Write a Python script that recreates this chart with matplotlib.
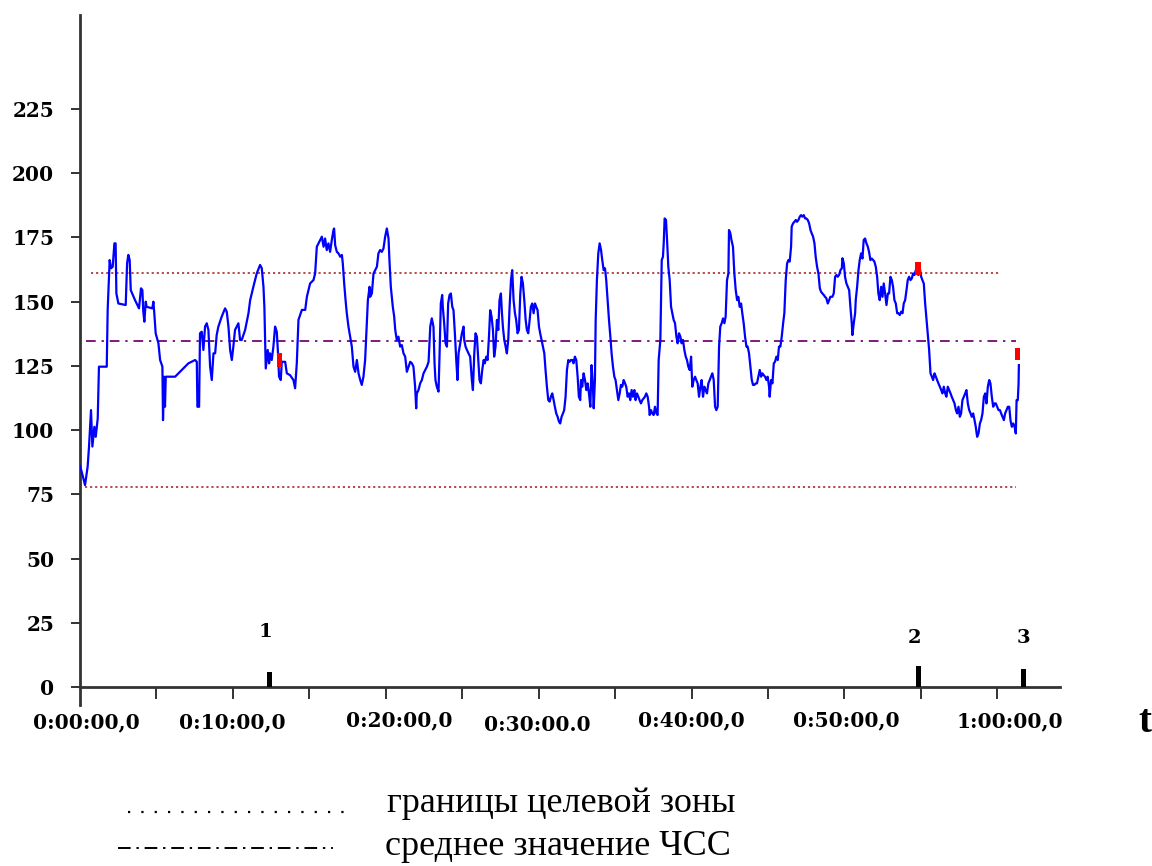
import numpy as np
import matplotlib
matplotlib.use('Agg')
import matplotlib.pyplot as plt
from matplotlib.lines import Line2D

# heart rate trace, time in minutes, HR in beats per minute
time_min = [
    0.0, 0.11, 0.33, 0.50, 0.59, 0.72, 0.81, 0.94, 1.03, 1.16, 1.24, 1.75, 1.81, 1.94, 2.03, 2.14,
    2.25, 2.33, 2.38, 2.51, 2.99, 3.08, 3.16, 3.25, 3.32, 3.60, 3.86, 3.99, 4.08, 4.14, 4.21, 4.30,
    4.36, 4.73, 4.80, 4.86, 4.95, 5.13, 5.24, 5.39, 5.43, 5.50, 5.56, 5.61, 6.22, 7.09, 7.53, 7.64,
    7.68, 7.79, 7.85, 7.96, 8.07, 8.18, 8.29, 8.40, 8.51, 8.62, 8.73, 8.84, 8.94, 9.05, 9.27, 9.49,
    9.60, 9.71, 9.82, 9.93, 10.03, 10.14, 10.36, 10.47, 10.58, 10.80, 11.02, 11.13, 11.34, 11.56,
    11.78, 11.89, 12.00, 12.06, 12.15, 12.28, 12.37, 12.43, 12.54, 12.65, 12.76, 12.87, 12.94, 13.02,
    13.13, 13.20, 13.42, 13.53, 13.74, 13.96, 14.07, 14.18, 14.29, 14.51, 14.73, 14.84, 15.05, 15.27,
    15.38, 15.49, 15.71,
    15.82, 15.93, 16.03, 16.14, 16.25, 16.36, 16.47, 16.58, 16.62, 16.69, 16.80, 16.91, 17.02, 17.13,
    17.19, 17.28, 17.37, 17.45, 17.56, 17.67, 17.78, 17.89, 18.00, 18.11, 18.22, 18.33, 18.43, 18.54,
    18.65, 18.76, 18.83, 18.94, 18.98, 19.09, 19.20, 19.31, 19.42, 19.52, 19.63, 19.74, 19.85, 19.96,
    20.07, 20.18, 20.24, 20.33, 20.46, 20.55, 20.62, 20.72, 20.83, 20.94, 21.05, 21.16, 21.27, 21.38,
    21.49, 21.60, 21.71, 21.81, 21.92, 21.99, 22.03, 22.14, 22.25, 22.36, 22.47, 22.58, 22.69, 22.80,
    22.91, 23.01, 23.12, 23.19, 23.25, 23.34, 23.45, 23.52, 23.60, 23.69, 23.73, 23.82, 23.91, 24.00,
    24.08, 24.17, 24.26, 24.35, 24.43, 24.52, 24.61, 24.69, 24.76, 24.87, 24.98, 25.09, 25.13, 25.22,
    25.31, 25.41, 25.52, 25.63, 25.70, 25.79, 25.87, 25.96, 26.05, 26.13, 26.22, 26.31, 26.40, 26.48,
    26.57, 26.66, 26.75, 26.83, 26.92, 27.01, 27.09, 27.18, 27.27, 27.36, 27.44, 27.53, 27.60, 27.66,
    27.75, 27.84, 27.92, 28.01, 28.10, 28.19, 28.27, 28.36, 28.45, 28.53, 28.62, 28.71, 28.80, 28.88,
    28.97, 29.06, 29.15, 29.23, 29.32, 29.41, 29.49, 29.58, 29.67, 29.76, 29.84, 29.93, 30.02, 30.10,
    30.19, 30.28, 30.37, 30.45, 30.54, 30.63, 30.72, 30.80, 30.89, 30.98, 31.06, 31.15, 31.24, 31.33,
    31.41, 31.50, 31.59, 31.67, 31.76, 31.85, 31.94, 32.02, 32.11, 32.20, 32.28, 32.37, 32.46, 32.55,
    32.63, 32.72,
    32.77, 32.85, 32.94, 33.03, 33.12, 33.20, 33.29, 33.38, 33.46, 33.55, 33.60, 33.68, 33.73, 33.81,
    33.90, 33.99, 34.08, 34.16, 34.25, 34.34, 34.42, 34.51, 34.60, 34.69, 34.77, 34.86, 34.95, 35.03,
    35.12, 35.21, 35.30, 35.38, 35.47, 35.56, 35.65, 35.73, 35.82, 35.91, 35.99, 36.08, 36.17, 36.26,
    36.34, 36.43, 36.52, 36.60, 36.69, 36.78, 36.87, 36.95, 37.04, 37.13, 37.22, 37.26, 37.35, 37.43,
    37.52, 37.61, 37.70, 37.78, 37.85, 37.96, 38.05, 38.13, 38.18, 38.24, 38.33, 38.42, 38.48, 38.57,
    38.66, 38.74, 38.83, 38.92, 39.01, 39.09, 39.18, 39.27, 39.35, 39.44, 39.53, 39.62, 39.70, 39.79,
    39.88, 39.97, 40.05, 40.14, 40.23, 40.31, 40.40, 40.49, 40.58, 40.66, 40.75, 40.84, 40.92, 41.01,
    41.10, 41.19, 41.27, 41.36, 41.45, 41.54, 41.62, 41.71, 41.80, 41.88, 41.97, 42.06, 42.15, 42.23,
    42.32, 42.41, 42.45, 42.54, 42.61, 42.71, 42.80, 42.89, 42.98, 43.06, 43.15, 43.24, 43.32, 43.41,
    43.50, 43.59, 43.67, 43.76, 43.85, 43.94, 44.02, 44.11, 44.20, 44.28, 44.37, 44.46, 44.55, 44.63,
    44.72, 44.81, 44.90, 44.98, 45.07, 45.11, 45.20, 45.29, 45.38, 45.46, 45.55, 45.64, 45.72, 45.81,
    45.90, 45.99, 46.07, 46.16, 46.25, 46.34, 46.42, 46.51, 46.55, 46.64, 46.73, 46.82, 46.90, 46.99,
    47.08, 47.16, 47.25, 47.34, 47.43, 47.51, 47.60, 47.69, 47.78, 47.86, 47.95, 48.04, 48.12, 48.21,
    48.30, 48.39, 48.47, 48.56, 48.65, 48.73, 48.82, 48.91, 49.00, 49.08,
    49.21, 49.30, 49.39, 49.48, 49.56, 49.65, 49.74, 49.83, 49.87, 49.96, 50.04, 50.13, 50.22, 50.31,
    50.39, 50.48, 50.52, 50.61, 50.70, 50.74, 50.83, 50.92, 51.00, 51.09, 51.18, 51.26, 51.35, 51.44,
    51.53, 51.61, 51.70, 51.79, 51.88, 51.96, 52.05, 52.14, 52.22, 52.31, 52.40, 52.49, 52.57, 52.66,
    52.75, 52.84, 52.92, 53.01, 53.10, 53.18, 53.27, 53.36, 53.45, 53.53, 53.62, 53.71, 53.80, 53.88,
    53.97, 54.06, 54.14, 54.23, 54.32, 54.41, 54.49, 54.58, 54.67, 54.76, 54.84, 54.93, 55.02, 55.10,
    55.19, 55.28, 55.37, 55.45, 55.54, 55.63, 55.72, 55.80, 55.89, 55.98, 56.06, 56.15, 56.24, 56.33,
    56.41, 56.50, 56.59, 56.67, 56.76, 56.85, 56.94, 57.02, 57.11, 57.20, 57.29, 57.37, 57.46, 57.55,
    57.63, 57.72, 57.81, 57.90, 57.98, 58.07, 58.16, 58.25, 58.33, 58.42, 58.51, 58.59, 58.68, 58.77,
    58.86, 58.94, 59.03, 59.12, 59.21, 59.29, 59.38, 59.47, 59.55, 59.64, 59.73, 59.82, 59.90, 59.99,
    60.08, 60.17, 60.25, 60.34, 60.43, 60.51, 60.60, 60.69, 60.78, 60.86, 60.95, 61.04, 61.13, 61.21,
    61.26, 61.34, 61.39, 61.41,
]
hr_bpm = [
    86.0, 83.8, 78.6, 85.8, 93.6, 107.8, 93.6, 101.3, 97.4, 104.6, 124.7, 124.7, 146.8, 166.2, 163.0, 163.6,
    172.7, 172.7, 153.2, 149.3, 148.7, 164.9, 168.2, 166.2, 154.5, 150.6, 147.4, 155.2, 154.5, 146.1, 142.2, 150.0,
    148.0, 147.4, 150.0, 145.5, 137.7, 133.8, 127.3, 124.7, 103.9, 120.8, 109.1, 120.8, 120.8, 126.0, 127.3, 126.6,
    109.1, 109.1, 137.7, 138.3, 131.2, 140.3, 141.6, 139.0, 124.7, 119.5, 129.9, 129.9, 137.0, 140.3, 144.2, 147.4,
    146.1, 140.3, 131.2, 127.3, 132.5, 139.0, 141.6, 135.1, 135.1, 139.0, 145.5, 150.6, 155.8, 161.0,
    164.3, 163.0, 155.8, 148.0, 124.0, 131.2, 126.0, 129.9, 127.3, 132.5, 140.3, 138.3, 131.2, 120.8,
    119.5, 126.6, 126.6, 122.1, 121.4, 119.5, 116.3, 126.0, 142.9, 146.8, 146.8, 151.9, 157.1, 158.4,
    161.0, 171.4, 174.0,
    175.3, 171.4, 174.6, 170.1, 172.7, 169.4, 174.0, 177.9, 178.5, 172.0, 169.4, 168.8, 167.5, 168.2,
    164.9, 157.1, 150.6, 145.5, 140.3, 136.4, 132.5, 124.7, 122.7, 127.3, 122.1, 119.5, 117.6, 120.8,
    127.3, 141.6, 150.6, 155.8, 151.9, 153.2, 161.0, 162.3, 163.6, 168.8, 170.1, 169.4, 170.7, 175.3,
    178.5, 174.6, 166.2, 155.8, 148.0, 144.2, 139.0, 135.1, 136.4, 132.5, 133.1, 129.9, 128.6, 122.7,
    124.7, 126.6, 126.0, 124.7, 116.9, 108.5, 114.3, 115.6, 118.2, 119.5, 122.1, 123.4, 124.7, 126.6,
    140.3, 143.5, 140.3, 126.0, 119.5, 116.9, 115.0, 129.9, 149.3, 152.6, 148.0, 141.6, 133.8, 132.5,
    149.3, 152.6, 153.2, 148.0, 146.7, 137.7, 127.3, 119.5, 129.9, 133.8, 137.7, 140.3, 135.1, 132.5,
    131.2, 129.9, 128.6, 119.5, 115.6, 129.9, 137.7, 136.4, 127.3, 119.5, 118.2, 123.4, 127.3, 126.0,
    128.6, 127.3, 136.4, 146.7, 144.2, 139.0, 128.6, 132.5, 142.9, 139.0, 150.6, 153.2, 145.5, 140.3,
    135.1, 132.5, 129.9, 135.1, 148.0, 158.4, 162.3, 150.6, 145.5, 142.9, 137.7, 139.0, 153.2, 159.7,
    157.1, 150.6, 142.9, 139.0, 137.7, 142.9, 148.0, 149.3, 145.5, 149.3, 148.0, 146.7, 140.3, 137.7,
    135.1, 132.5, 129.9, 123.4, 116.9, 111.7, 111.1, 113.0, 114.3, 111.7, 109.1, 106.5, 105.2, 103.3,
    102.6, 105.2, 106.5, 107.8, 113.0, 123.4, 127.3, 126.6, 127.3, 127.3, 126.0, 128.6, 127.3, 120.8,
    113.0, 111.7,
    119.5, 116.9, 122.1, 119.5, 115.6, 118.2, 114.3, 109.1, 125.3, 116.9, 108.5, 119.5, 142.9, 158.4,
    168.8, 172.7, 170.1, 166.2, 162.3, 163.0, 158.4, 150.6, 142.9, 136.4, 129.9, 124.7, 120.8, 119.5,
    115.6, 111.7, 114.3, 117.6, 116.9, 119.5, 118.2, 116.9, 113.0, 114.3, 111.7, 115.6, 113.0, 115.6,
    111.7, 114.3, 113.0, 111.7, 110.4, 111.7, 112.4, 113.0, 114.3, 113.0, 109.1, 105.9, 107.8, 106.5,
    105.9, 109.1, 106.5, 105.9, 127.3, 135.1, 166.2, 167.5, 172.7, 182.4, 181.8, 171.4, 163.6, 158.4,
    148.0, 145.5, 142.9, 141.6, 136.4, 133.8, 137.7, 136.4, 133.8, 135.1, 131.2, 128.6, 127.3, 124.7,
    123.4, 128.6, 116.9, 119.5, 120.8, 119.5, 118.2, 113.0, 116.9, 119.5, 113.0, 116.9, 115.6, 114.3,
    118.2, 119.5, 120.8, 122.1, 119.5, 109.1, 107.8, 109.1, 132.5, 140.3, 141.6, 143.5, 141.6, 144.2,
    158.4, 161.0, 177.9, 176.6, 174.0, 171.4, 161.0, 154.5, 150.6, 151.9, 148.0, 149.3, 145.5, 141.6,
    136.4, 132.5, 132.5, 129.9, 124.7, 119.5, 117.6, 117.6, 118.2, 118.2, 120.8, 123.4, 120.8, 122.1,
    121.4, 120.8, 119.5, 120.8, 116.9, 113.0, 119.5, 118.2, 126.0, 126.6, 128.6, 127.3, 132.5, 132.5,
    136.4, 141.6, 145.5, 158.4, 164.9, 166.2, 165.6, 171.4, 179.2, 180.5, 181.1, 181.8, 181.1, 181.8,
    183.1, 183.7, 183.1, 183.7, 182.4, 182.4, 181.8, 180.5, 177.9, 176.6, 175.3, 172.7, 167.5, 163.6,
    161.0, 155.2, 153.9, 153.2, 152.6, 151.9, 151.3, 149.3, 150.6, 151.9,
    151.9, 153.2, 159.7, 160.4, 159.7, 160.4, 162.3, 163.0, 166.9, 164.9, 159.7, 157.1, 155.8, 154.5,
    148.0, 141.6, 137.0, 141.6, 145.5, 150.6, 155.8, 162.3, 166.2, 168.8, 166.8, 174.0, 174.6, 172.7,
    171.4, 169.4, 166.2, 166.8, 166.2, 165.6, 163.6, 159.7, 153.2, 150.6, 155.8, 151.9, 157.1, 153.2,
    148.7, 153.2, 153.2, 159.7, 158.4, 155.8, 150.6, 149.3, 145.5, 145.5, 144.8, 146.1, 145.5, 149.3,
    150.6, 154.5, 158.4, 159.7, 158.4, 159.1, 161.0, 160.4, 162.3, 161.0, 160.4, 163.0, 159.7, 158.4,
    157.1, 149.3, 142.9, 137.7, 131.2, 122.1, 120.8, 119.5, 122.1, 120.8, 119.5, 118.2, 116.9, 115.6,
    114.3, 116.9, 114.3, 113.0, 116.9, 115.6, 114.3, 113.0, 111.7, 110.4, 107.8, 106.5, 109.1, 105.2,
    106.5, 111.7, 113.0, 114.3, 115.6, 110.4, 107.8, 106.5, 105.2, 106.5, 103.9, 101.3, 97.4, 98.7,
    102.6, 103.9, 106.5, 113.0, 114.3, 110.4, 116.9, 119.5, 118.2, 113.0, 109.1, 110.4, 110.4, 109.1,
    107.8, 107.8, 106.5, 105.2, 103.9, 106.5, 107.8, 109.1, 109.1, 103.9, 101.3, 102.6, 101.3, 98.7,
    111.7, 111.7, 118.2, 125.3,
]

# target zone borders and mean HR
zone_upper = 161.0
zone_lower = 78.0
mean_hr = 134.6
zone_upper_span = [0.7, 60.2]
zone_lower_span = [0.3, 61.2]
mean_span = [0.4, 61.2]

# red marks on the trace
red_t = [13.05, 54.82, 61.33]
red_lo = [124.7, 160.4, 127.3]
red_hi = [129.9, 165.6, 132.0]

# numbered event marks on the time axis
event_t = [12.4, 54.85, 61.7]
event_h = [6.0, 8.0, 7.0]
event_lbl = ['1', '2', '3']
event_lbl_t = [12.15, 54.55, 61.7]
event_lbl_v = [21.4, 19.1, 19.1]

y_ticks = [0, 25, 50, 75, 100, 125, 150, 175, 200, 225]
x_ticks = [5, 10, 15, 20, 25, 30, 35, 40, 45, 50, 55, 60]
x_labels = ['0:00:00,0', '0:10:00,0', '0:20:00,0', '0:30:00.0', '0:40:00,0', '0:50:00,0', '1:00:00,0']
x_label_pos = [0.4, 9.95, 20.9, 29.9, 40.0, 50.1, 60.8]
x_label_v = [-13.6, -13.6, -12.8, -14.8, -12.8, -12.8, -13.2]

legend_texts = ['границы целевой зоны', 'среднее значение ЧСС']

plt.rcParams['font.family'] = ['Liberation Serif', 'DejaVu Serif']

fig = plt.figure(figsize=(11.52, 8.66), dpi=100)
ax = fig.add_axes([0.06944, 0.18591, 0.8507, 0.79677])

ax.plot(time_min, hr_bpm, color='#0000ff', lw=1.6, zorder=3)

ax.plot(zone_upper_span, [zone_upper, zone_upper], color='#b03a3a', lw=1.3, dashes=(1.2, 1.6), zorder=2)
ax.plot(zone_lower_span, [zone_lower, zone_lower], color='#b03a3a', lw=1.3, dashes=(1.2, 1.6), zorder=2)
ax.plot(mean_span, [mean_hr, mean_hr], color='#7d1a7d', lw=1.4, dashes=(5, 3, 1.2, 3), zorder=2)

ax.bar(red_t, np.array(red_hi) - np.array(red_lo), bottom=red_lo, width=0.35,
       color='#ff0000', zorder=4)

ax.bar(event_t, event_h, bottom=0, width=0.3, color='black', zorder=4)
for t, v, s in zip(event_lbl_t, event_lbl_v, event_lbl):
    ax.text(t, v, s, ha='center', va='center', fontsize=14, fontweight='bold',
            family='DejaVu Serif')

ax.set_xlim(0, 64.1)
ax.set_ylim(-7, 261.6)

for side in ['top', 'right']:
    ax.spines[side].set_visible(False)
ax.spines['bottom'].set_position(('data', 0))
ax.spines['left'].set_color('#333333')
ax.spines['bottom'].set_color('#333333')
ax.spines['left'].set_linewidth(2)
ax.spines['bottom'].set_linewidth(2)

ax.set_yticks(y_ticks)
ax.set_yticklabels([str(v) for v in y_ticks])
ax.tick_params(axis='y', direction='out', length=6.5, width=1.4, color='#333333', pad=12)
for lbl in ax.get_yticklabels():
    lbl.set_fontfamily('DejaVu Serif')
    lbl.set_fontweight('bold')
    lbl.set_fontsize(14.5)

ax.set_xticks(x_ticks)
ax.set_xticklabels([])
ax.tick_params(axis='x', direction='out', length=8.6, width=1.4, color='#333333')

for pos, v, s in zip(x_label_pos, x_label_v, x_labels):
    ax.text(pos, v, s, ha='center', va='center', fontsize=14.5, fontweight='bold',
            family='DejaVu Serif')

fig.text(1145 / 1152, 1 - 722 / 866, 't', ha='center', va='center', fontsize=28,
         fontweight='bold')

# legend drawn under the chart
fig.add_artist(Line2D([0.111, 0.2995], [0.0624, 0.0624], transform=fig.transFigure,
                      color='black', lw=1.6, dashes=(1.0, 5.0)))
fig.add_artist(Line2D([0.1024, 0.289], [0.0208, 0.0208], transform=fig.transFigure,
                      color='black', lw=1.4, dashes=(6.5, 3, 1.2, 3)))
fig.text(0.336, 0.0624, legend_texts[0], ha='left', va='baseline', fontsize=26)
fig.text(0.334, 0.0127, legend_texts[1], ha='left', va='baseline', fontsize=26)

fig.savefig('out.png', dpi=100)
